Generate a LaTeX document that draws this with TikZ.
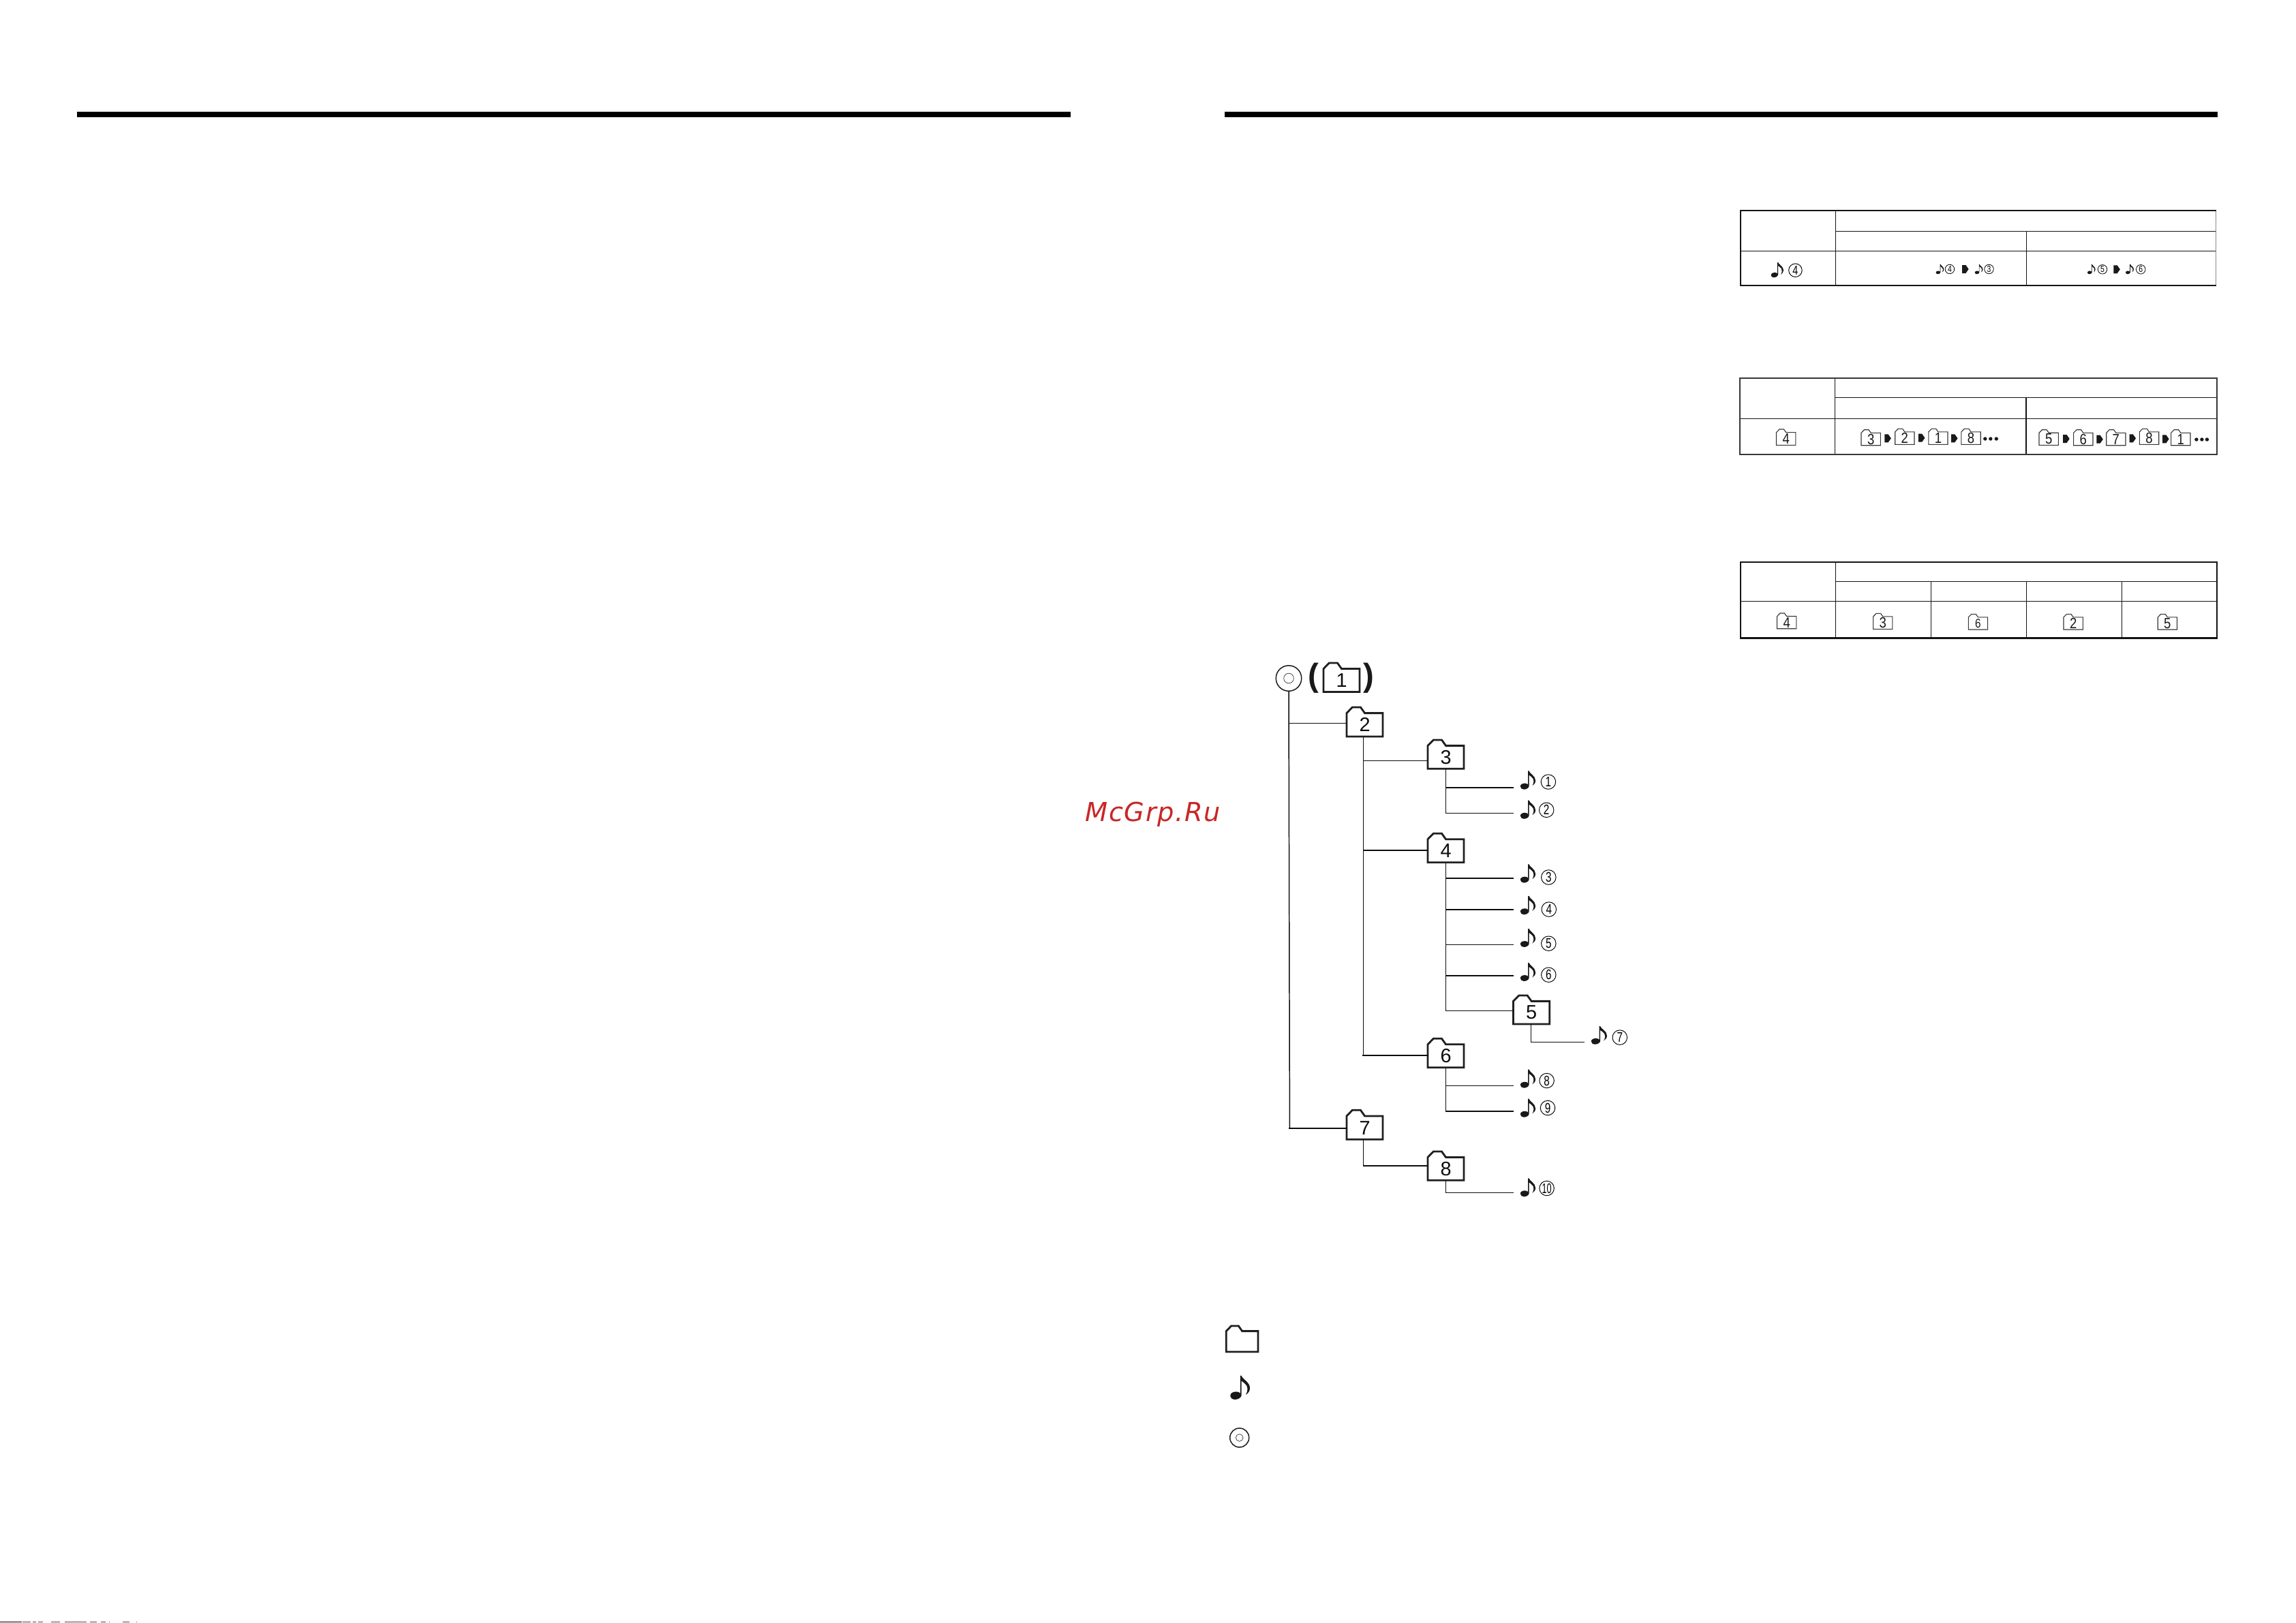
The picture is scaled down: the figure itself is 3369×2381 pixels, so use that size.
\documentclass[tikz,border=0pt]{standalone}
\usepackage{fontspec}
\setmainfont{Liberation Sans}
\newfontfamily\wmfont[LetterSpace=4]{DejaVu Sans}
\newcommand{\UU}{0.01cm}
\tikzset{
  x=0.01cm,y=-0.01cm,
  folderline/.style={line width=0.8pt,line join=miter,black!88},
  smallfolderline/.style={line width=0.32pt,line join=miter,black!78},
  thinwire/.style={line width=0.42pt,black!95},
  boldwire/.style={line width=0.66pt,black!95},
  digitbig/.style={font=\fontsize{8.2}{9}\selectfont,text=black!95,inner sep=0pt,outer sep=0pt},
  digitsmall/.style={font=\fontsize{6.2}{7}\selectfont,text=black!90,inner sep=0pt,outer sep=0pt},
  circlebig/.style={circle,draw,line width=0.27pt,minimum size=21.5*\UU,inner sep=0pt,font=\fontsize{5.8}{6}\selectfont},
  circlesmall/.style={circle,draw,line width=0.22pt,minimum size=13.5*\UU,inner sep=0pt,font=\fontsize{3.7}{4}\selectfont},
  circlemid/.style={circle,draw,line width=0.27pt,minimum size=19.5*\UU,inner sep=0pt,font=\fontsize{5.4}{6}\selectfont},
  notebox/.style={inner sep=0pt,outer sep=2.85pt},
  cdouter/.style={circle,draw,line width=0.42pt,black!90,inner sep=0pt},
  cdinner/.style={circle,draw,line width=0.2pt,black!80,inner sep=0pt},
  parentext/.style={font=\fontsize{13.5}{16}\selectfont,text=black!90,inner sep=0pt},
  dotmark/.style={circle,fill=black!90,minimum size=5.4*\UU,inner sep=0pt},
  bararule/.style={fill=black},
  tabthin/.style={line width=0.36pt,black!92},
  tabbold/.style={line width=0.62pt,black!92},
  tabgrey/.style={line width=0.62pt,black!78},
  tabheavy/.style={line width=0.72pt,black!92},
}
% name, x1, ytop, x2, ybottom, digit, digit-style, line-style
\newcommand{\TrFolder}[8]{%
  \pgfmathsetmacro{\TrW}{#4-#2}\pgfmathsetmacro{\TrH}{#5-#3}%
  \draw[#8,fill=white,shift={(#2,#3)},xscale=\TrW,yscale=\TrH]
    (0,1)--(0,.2)--(.157,0)--(.386,0)--(.5,.2)--(1,.2)--(1,1)--cycle;
  \pgfmathsetmacro{\TrCx}{(#2+#4)/2}\pgfmathsetmacro{\TrCy}{#3+0.6*(#5-#3)}%
  \pgfmathsetmacro{\TrBh}{0.8*(#5-#3)}%
  \node[#7,minimum width=\TrW*\UU,minimum height=\TrBh*\UU] (#1) at (\TrCx,\TrCy) {#6};%
}
% name, x1, ytop, x2, ybottom
\newcommand{\TrNote}[5]{%
  \pgfmathsetmacro{\TrW}{#4-#2}\pgfmathsetmacro{\TrH}{#5-#3}%
  \pgfmathsetmacro{\TrCx}{(#2+#4)/2}\pgfmathsetmacro{\TrCy}{(#3+#5)/2}%
  \node[notebox,minimum width=\TrW*\UU,minimum height=\TrH*\UU] (#1) at (\TrCx,\TrCy) {};%
  \fill[black!90,shift={(#2,#3)},xscale=\TrW,yscale=\TrH]
    (.0,.83) .. controls (.0,.74) and (.14,.67) .. (.29,.67)
    .. controls (.38,.67) and (.46,.69) .. (.51,.74)
    -- (.51,0) -- (.57,0)
    .. controls (.6,.14) and (1,.26) .. (1,.52)
    .. controls (1,.66) and (.9,.74) .. (.79,.80)
    .. controls (.9,.64) and (.9,.5) .. (.82,.4)
    .. controls (.74,.32) and (.64,.26) .. (.57,.22)
    -- (.57,.83)
    .. controls (.55,.93) and (.38,1) .. (.24,1)
    .. controls (.1,1) and (.0,.93) .. (.0,.83) -- cycle;%
}
% name, cx, cy
\newcommand{\TrArrow}[3]{%
  \fill[black!90,shift={(#2,#3)},name=#1] (-4.5,-6)--(0.8,-6)--(5,0)--(0.8,6)--(-4.5,6)--cycle;%
}
% name, cx, cy, digit, style, xstretch
\newcommand{\TrCirc}[6]{%
  \node[#5] (#1) at (#2,#3) {\scalebox{#6}[1]{#4}};%
}
\begin{document}
\begin{tikzpicture}
\useasboundingbox (0,0) rectangle (3369,2381);
\fill[white] (0,0) rectangle (3369,2381);

% header bars
\fill[bararule] (113,164) rectangle (1571,172);
\fill[bararule] (1797,164) rectangle (3254,172);

% watermark
\node[anchor=base west,inner sep=0pt,text=red!75!black!85!white] (wm) at (1592,1205)
  {\fontsize{10.9}{12}\selectfont\wmfont\itshape McGrp.Ru};

% ---- tree -----
\node[cdouter,minimum size=37.5*\UU] (cd) at (1891,995.5) {};
\node[cdinner,minimum size=14.6*\UU] (cdin) at (1891,995.5) {};
\node[parentext] (pl) at (1927.5,995) {\textbf{(}};
\node[parentext] (pr) at (2008.5,995) {\textbf{)}};

\TrFolder{f1}{1942}{973}{1995}{1015.5}{1}{digitbig}{folderline}
\TrFolder{f2}{1976}{1038}{2029}{1080.9}{2}{digitbig}{folderline}
\TrFolder{f3}{2095}{1085.9}{2148}{1128.3}{3}{digitbig}{folderline}
\TrFolder{f4}{2095}{1223.2}{2148}{1265.7}{4}{digitbig}{folderline}
\TrFolder{f5}{2220.5}{1460.9}{2273.7}{1503}{5}{digitbig}{folderline}
\TrFolder{f6}{2095}{1524.3}{2148}{1566.7}{6}{digitbig}{folderline}
\TrFolder{f7}{1976}{1629.3}{2029}{1672.3}{7}{digitbig}{folderline}
\TrFolder{f8}{2095}{1690}{2148}{1732.3}{8}{digitbig}{folderline}

\TrNote{n1}{2230.8}{1131.4}{2253.1}{1158.6}
\TrNote{n2}{2230.8}{1174.6}{2253.1}{1201.8}
\TrNote{n3}{2230.8}{1268.4}{2253.1}{1295.6}
\TrNote{n4}{2230.8}{1315}{2253.1}{1342.3}
\TrNote{n5}{2230.8}{1363}{2253.1}{1390}
\TrNote{n6}{2230.8}{1413}{2253.1}{1440}
\TrNote{n7}{2334.8}{1506}{2358}{1532.7}
\TrNote{n8}{2230.8}{1569.7}{2253.1}{1596.7}
\TrNote{n9}{2230.8}{1612.7}{2253.1}{1639.7}
\TrNote{n10}{2230.8}{1729.3}{2253.1}{1756.3}

\TrCirc{c1}{2271.9}{1147.5}{1}{circlebig}{.75}
\TrCirc{c2}{2269.2}{1188.8}{2}{circlebig}{.75}
\TrCirc{c3}{2272.3}{1287.5}{3}{circlebig}{.75}
\TrCirc{c4}{2272.8}{1334.6}{4}{circlebig}{.75}
\TrCirc{c5}{2272.3}{1384.7}{5}{circlebig}{.75}
\TrCirc{c6}{2272.3}{1430.7}{6}{circlebig}{.75}
\TrCirc{c7}{2376.8}{1522.6}{7}{circlebig}{.75}
\TrCirc{c8}{2269.6}{1586}{8}{circlebig}{.75}
\TrCirc{c9}{2271}{1626}{9}{circlebig}{.75}
\TrCirc{c10}{2269.6}{1744}{10}{circlebig}{.62}

% junctions on the trunks
\coordinate (t1) at (1892.4,1061.4);
\coordinate (t1b) at (1892.4,1656);
\coordinate (t2) at (2000.4,1116.5);
\coordinate (t2b) at (2000.4,1247.7);
\coordinate (t2c) at (2000.4,1548.7);
\coordinate (t2d) at (2000.4,1710.7);
\coordinate (a1) at (2121.4,1155.9);
\coordinate (a2) at (2121.4,1193.4);
\coordinate (a3) at (2121.4,1289);
\coordinate (a4) at (2121.4,1335);
\coordinate (a5) at (2121.4,1386.3);
\coordinate (a6) at (2121.4,1431.8);
\coordinate (a7) at (2121.4,1483.5);
\coordinate (a8) at (2121.4,1593.3);
\coordinate (a9) at (2121.4,1630.7);
\coordinate (a10) at (2121.4,1750.3);
\coordinate (b7) at (2246.4,1529.3);

\draw[thinwire] (cd.south) -- (t1b);
\draw[thinwire] (t1) -- (t1 -| f2.west);
\draw[boldwire,line cap=rect] (t1b) -- (t1b -| f7.west);
\draw[thinwire] (t2 |- f2.south) -- (t2c);
\draw[thinwire] (t2) -- (t2 -| f3.west);
\draw[boldwire] (t2b) -- (t2b -| f4.west);
\draw[boldwire,line cap=rect] (t2c) -- (t2c -| f6.west);
\draw[thinwire] (t2 |- f7.south) -- (t2d);
\draw[boldwire] (t2d) -- (t2d -| f8.west);
\draw[thinwire] (a1 |- f3.south) -- (a2);
\draw[boldwire] (a1) -- (a1 -| n1.west);
\draw[thinwire] (a2) -- (a2 -| n2.west);
\draw[thinwire] (a3 |- f4.south) -- (a7);
\draw[boldwire] (a3) -- (a3 -| n3.west);
\draw[boldwire] (a4) -- (a4 -| n4.west);
\draw[thinwire] (a5) -- (a5 -| n5.west);
\draw[boldwire] (a6) -- (a6 -| n6.west);
\draw[thinwire] (a7) -- (a7 -| f5.west);
\draw[thinwire] (b7 |- f5.south) -- (b7) -- (b7 -| n7.west);
\draw[thinwire] (a8 |- f6.south) -- (a9);
\draw[thinwire] (a8) -- (a8 -| n8.west);
\draw[boldwire] (a9) -- (a9 -| n9.west);
\draw[thinwire] (a10 |- f8.south) -- (a10) -- (a10 -| n10.west);

% legend
\TrFolder{lf}{1799.3}{1946}{1846}{1984}{}{digitbig}{folderline}
\TrNote{ln}{1805.3}{2019}{1834}{2054}
\node[cdouter,minimum size=28*\UU] (lc) at (1818.7,2110) {};
\node[cdinner,minimum size=10.6*\UU] (lci) at (1818.7,2110) {};

% ---- table 1 -----
\draw[tabthin] (2693.4,339.3) -- (3251,339.3);
\draw[tabthin] (2554,368.3) -- (3251,368.3);
\draw[tabthin] (2693.4,309) -- (2693.4,418.7);
\draw[tabthin] (2973.2,339.3) -- (2973.2,418.7);
\draw[line width=0.3pt,black!45] (3251,309) -- (3251,418.7);
\draw[tabbold,line cap=rect] (3251,309) -- (2554,309) -- (2554,418.7) -- (3251,418.7);

\TrNote{tn0}{2598.5}{385}{2617}{407.3}
\TrCirc{tc0}{2634.4}{396.7}{4}{circlemid}{.75}
\TrNote{tn1}{2840.6}{387.7}{2852.4}{402.3}
\TrCirc{tc1}{2860.9}{395}{4}{circlesmall}{.8}
\TrArrow{ta1}{2883.6}{395}
\TrNote{tn2}{2897.7}{387.7}{2909.5}{402.3}
\TrCirc{tc2}{2918.5}{395}{3}{circlesmall}{.8}
\TrNote{tn3}{3062.9}{387.7}{3074.7}{402.3}
\TrCirc{tc3}{3085}{395.3}{5}{circlesmall}{.8}
\TrArrow{ta2}{3105.8}{395.3}
\TrNote{tn4}{3119}{387.7}{3131}{402.3}
\TrCirc{tc4}{3141.2}{395.3}{6}{circlesmall}{.8}

% ---- table 2 -----
\draw[tabthin] (2692.4,583.3) -- (3253,583.3);
\draw[tabthin] (2552.7,614.3) -- (3253,614.3);
\draw[tabthin] (2692.4,555) -- (2692.4,666.7);
\draw[tabthin] (2973,583.3) -- (2973,666.7);
\draw[tabgrey] (2552.7,555) rectangle (3253,666.7);

\TrFolder{u0}{2606.5}{630}{2634.9}{653.3}{\scalebox{.85}[1]{4}}{digitsmall}{smallfolderline}
\TrFolder{u1}{2731}{630.7}{2759.4}{653.7}{\scalebox{.85}[1]{3}}{digitsmall}{smallfolderline}
\TrArrow{ua1}{2769.8}{643.3}
\TrFolder{u2}{2780.7}{629.3}{2809}{652.3}{\scalebox{.85}[1]{2}}{digitsmall}{smallfolderline}
\TrArrow{ua2}{2819.4}{642.7}
\TrFolder{u3}{2829.8}{629.3}{2858}{652.3}{\scalebox{.85}[1]{1}}{digitsmall}{smallfolderline}
\TrArrow{ua3}{2867.5}{643.3}
\TrFolder{u4}{2877.9}{629.3}{2906.2}{652.3}{\scalebox{.85}[1]{8}}{digitsmall}{smallfolderline}
\node[dotmark] (ud1) at (2912.8,644) {};
\node[dotmark] (ud2) at (2920.8,644) {};
\node[dotmark] (ud3) at (2929.3,644) {};
\TrFolder{v1}{2992}{630.7}{3020.4}{653.3}{\scalebox{.85}[1]{5}}{digitsmall}{smallfolderline}
\TrArrow{va1}{3031.7}{644}
\TrFolder{v2}{3042.6}{630.7}{3071}{653.7}{\scalebox{.85}[1]{6}}{digitsmall}{smallfolderline}
\TrArrow{va2}{3080.8}{644.7}
\TrFolder{v3}{3090.7}{630.7}{3119}{653.7}{\scalebox{.85}[1]{7}}{digitsmall}{smallfolderline}
\TrArrow{va3}{3129}{643.3}
\TrFolder{v4}{3139.3}{629.3}{3167.7}{652.3}{\scalebox{.85}[1]{8}}{digitsmall}{smallfolderline}
\TrArrow{va4}{3177.6}{644.3}
\TrFolder{v5}{3185.6}{630.7}{3214}{653.7}{\scalebox{.85}[1]{1}}{digitsmall}{smallfolderline}
\node[dotmark] (vd1) at (3222.9,645) {};
\node[dotmark] (vd2) at (3230.9,645) {};
\node[dotmark] (vd3) at (3238.4,645) {};

% ---- table 3 -----
\draw[tabthin] (2693.4,853.3) -- (3253,853.3);
\draw[tabthin] (2554,882.3) -- (3253,882.3);
\draw[tabthin] (2693.4,825) -- (2693.4,936.7);
\draw[tabthin] (2833.5,853.3) -- (2833.5,936.7);
\draw[tabthin] (2973.2,853.3) -- (2973.2,936.7);
\draw[tabthin] (3113.4,853.3) -- (3113.4,936.7);
\draw[tabheavy] (2554,825) rectangle (3253,936.7);

\TrFolder{w0}{2607.5}{900}{2635.8}{922.7}{\scalebox{.85}[1]{4}}{digitsmall}{smallfolderline}
\TrFolder{w1}{2748.6}{900.3}{2776.9}{923.3}{\scalebox{.85}[1]{3}}{digitsmall}{smallfolderline}
\TrFolder{w2}{2888.3}{901.3}{2916.6}{924}{\scalebox{.7}[.85]{6}}{digitsmall}{smallfolderline}
\TrFolder{w3}{3028}{901.3}{3056.3}{924}{\scalebox{.85}[1]{2}}{digitsmall}{smallfolderline}
\TrFolder{w4}{3166.2}{901.3}{3194.5}{924}{\scalebox{.85}[1]{5}}{digitsmall}{smallfolderline}

% scan residue along the lower edge
\fill[black] (0,2380) rectangle (32,2381);
\foreach \sa/\sb in {33/45,48/53,56/63,75/88,95/127,132/142,148/155,160/161,180/190,200/201}
  \fill[black!70] (\sa,2380) rectangle (\sb,2381);
\end{tikzpicture}
\end{document}
